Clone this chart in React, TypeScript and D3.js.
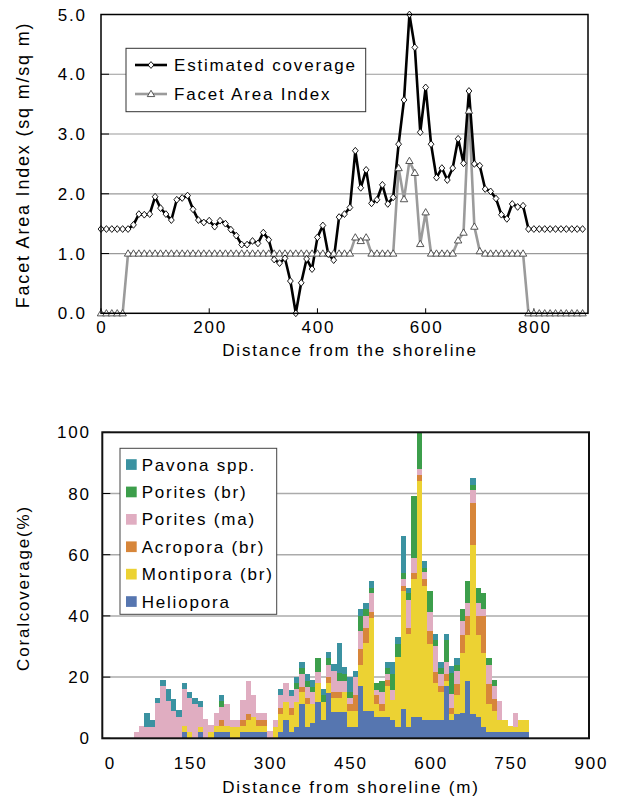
import React from 'react';
import * as d3 from 'd3';

// ---------- Top chart data ----------
const topDist = [
  0, 10, 20, 30, 40, 50, 60, 70, 80, 90,
  100, 110, 120, 130, 140, 150, 160, 170, 180, 190,
  200, 210, 220, 230, 240, 250, 260, 270, 280, 290,
  300, 310, 320, 330, 340, 350, 360, 370, 380, 390,
  400, 410, 420, 430, 440, 450, 460, 470, 480, 490,
  500, 510, 520, 530, 540, 550, 560, 570, 580, 590,
  600, 610, 620, 630, 640, 650, 660, 670, 680, 690,
  700, 710, 720, 730, 740, 750, 760, 770, 780, 790,
  800, 810, 820, 830, 840, 850, 860, 870, 880, 890,
];
const estimatedCoverage = [
  1.41, 1.41, 1.41, 1.41, 1.41, 1.41, 1.48, 1.66, 1.65, 1.66,
  1.95, 1.76, 1.66, 1.56, 1.90, 1.93, 1.97, 1.74, 1.56, 1.52,
  1.55, 1.45, 1.55, 1.50, 1.40, 1.30, 1.15, 1.15, 1.21, 1.17,
  1.35, 1.23, 0.90, 0.84, 0.92, 0.54, 0.00, 0.51, 0.91, 0.74,
  1.27, 1.47, 0.99, 0.89, 1.61, 1.66, 1.77, 2.72, 2.10, 2.40,
  1.84, 1.90, 2.15, 1.83, 1.94, 2.83, 3.57, 5.00, 4.45, 3.03,
  3.78, 2.83, 2.27, 2.43, 2.23, 2.43, 2.92, 2.51, 3.72, 2.50,
  2.47, 2.08, 2.04, 1.92, 1.65, 1.58, 1.83, 1.78, 1.80, 1.41,
  1.41, 1.41, 1.41, 1.41, 1.41, 1.41, 1.41, 1.41, 1.41, 1.41,
];
const facetAreaIndex = [
  0, 0, 0, 0, 0, 1, 1, 1, 1, 1,
  1, 1, 1, 1, 1, 1, 1, 1, 1, 1,
  1, 1, 1, 1, 1, 1, 1, 1, 1, 1,
  1, 1, 1, 1, 1, 1, 1, 1, 1, 1,
  1, 1, 1, 1, 1, 1, 1, 1.27, 1.21, 1.27,
  1, 1, 1, 1, 1, 2.43, 1.91, 2.55, 2.35, 1.16,
  1.69, 1, 1, 1, 1, 1, 1.22, 1.35, 3.39, 1.45,
  1.04, 1, 1, 1, 1, 1, 1, 1, 1, 0,
  0, 0, 0, 0, 0, 0, 0, 0, 0, 0,
];
const topYTicks = [0, 1, 2, 3, 4, 5];
const topXTicks = [0, 200, 400, 600, 800];

// ---------- Bottom chart data ----------
const barDist = [
  50, 60, 70, 80, 90, 100, 110, 120, 130, 140,
  150, 160, 170, 180, 190, 200, 210, 220, 230, 240,
  250, 260, 270, 280, 290, 300, 310, 320, 330, 340,
  350, 360, 370, 380, 390, 400, 410, 420, 430, 440,
  450, 460, 470, 480, 490, 500, 510, 520, 530, 540,
  550, 560, 570, 580, 590, 600, 610, 620, 630, 640,
  650, 660, 670, 680, 690, 700, 710, 720, 730, 740,
  750, 760, 770, 780,
];
const heliopora = [
  0, 0, 0, 0, 0, 0, 0, 0, 0, 2.0,
  0, 0, 2.2, 0, 0, 2.0, 2.0, 2.0, 0, 0,
  2.0, 2.0, 2.0, 2.0, 2.0, 0, 0, 2.0, 6.0, 2.0,
  3.8, 11.2, 3.8, 4.9, 12.0, 6.0, 14.7, 8.7, 8.7, 8.7,
  3.8, 3.8, 17.1, 9.0, 9.0, 7.1, 7.1, 7.1, 6.0, 3.8,
  9.6, 3.8, 7.0, 7.1, 6.0, 6.0, 6.0, 6.0, 17.1, 6.0,
  7.9, 8.2, 18.7, 7.9, 7.1, 3.8, 2.2, 2.2, 2.2, 2.2,
  2.2, 2.2, 2.2, 2.2,
];
const montipora = [
  0, 0, 0, 0, 0, 0, 0, 0, 0, 1.9,
  2.0, 0, 1.6, 0, 2.0, 1.9, 1.9, 1.9, 3.8, 3.8,
  1.9, 4.0, 5.1, 1.9, 1.9, 0, 3.8, 6.0, 6.0, 5.5,
  8.2, 4.0, 7.4, 6.3, 6.0, 6.0, 3.3, 4.4, 4.4, 6.5,
  5.2, 5.2, 6.8, 22.0, 30.2, 4.1, 1.9, 10.0, 6.5, 22.7,
  38.4, 30.3, 45.1, 77.0, 43.8, 24.8, 12.0, 9.2, 1.7, 1.9,
  6.3, 19.8, 15.1, 55.3, 26.7, 24.2, 9.0, 6.7, 3.8, 3.8,
  1.8, 1.6, 3.8, 3.8,
];
const acropora = [
  0, 0, 0, 0, 0, 0, 0, 0, 0, 0,
  0, 0, 0, 0, 0, 0, 2.2, 0, 0, 0,
  2.2, 2.0, 0, 2.2, 2.2, 0, 0, 1.9, 0, 2.4,
  0, 1.7, 1.9, 0, 0, 0, 2.1, 2.1, 2.1, 0,
  2.2, 5.2, 5.2, 4.9, 2.0, 3.0, 2.2, 1.9, 0, 0,
  1.8, 1.8, 1.8, 2.0, 2.2, 4.4, 3.8, 1.9, 2.2, 2.1,
  3.7, 5.8, 6.2, 13.6, 6.2, 12.0, 6.7, 3.8, 0, 0,
  0, 0, 0, 0,
];
const poritesMa = [
  2.2, 4.0, 3.8, 3.8, 11.4, 17.1, 12.3, 9.0, 7.1, 12.2,
  11.1, 11.2, 6.3, 6.3, 2.2, 4.4, 4.0, 7.4, 2.2, 2.2,
  6.5, 10.6, 7.1, 2.2, 2.2, 2.4, 2.2, 4.4, 6.0, 4.0,
  4.0, 4.1, 3.8, 4.0, 3.8, 0, 3.8, 6.8, 3.6, 3.6,
  1.9, 5.7, 6.1, 4.1, 6.2, 1.6, 4.0, 2.0, 3.3, 0,
  2.3, 9.3, 4.9, 1.9, 2.2, 6.2, 8.4, 3.9, 4.0, 4.4,
  4.2, 4.5, 4.3, 4.3, 4.3, 2.2, 6.1, 4.4, 6.2, 0,
  0, 4.4, 0, 0,
];
const poritesBr = [
  0, 0, 0, 0, 0, 0, 0, 0, 0, 0,
  0, 0, 0, 0, 0, 0, 2.0, 0, 0, 0,
  0, 0, 0, 0, 0, 0, 0, 0, 0, 0,
  2.2, 1.9, 1.9, 1.7, 4.3, 2.2, 2.2, 0, 2.4, 2.2,
  2.1, 0, 4.8, 2.1, 1.8, 2.4, 3.6, 1.9, 5.2, 4.3,
  1.8, 2.2, 20.4, 12.0, 1.6, 6.7, 1.9, 1.9, 7.1, 6.8,
  1.9, 3.8, 7.1, 1.7, 4.7, 5.2, 2.1, 2.0, 0, 0,
  0, 0, 0, 0,
];
const pavona = [
  0, 0, 4.4, 2.2, 1.9, 2.0, 3.7, 3.7, 2.0, 2.0,
  2.0, 1.9, 2.1, 0, 0, 0, 2.2, 0, 0, 0,
  0, 0, 0, 0, 0, 0, 0, 1.9, 0, 2.0,
  1.9, 1.9, 2.1, 2.1, 0, 1.9, 2.0, 2.3, 10.1, 2.2,
  4.9, 2.1, 2.1, 2.0, 2.2, 0, 0, 1.9, 3.8, 2.2,
  12.2, 1.6, 0, 0, 2.1, 0, 2.0, 1.9, 2.0, 2.4,
  2.1, 0, 0, 2.2, 0, 0, 0, 0, 0, 0,
  0, 0, 0, 0,
];
const seriesKeys = ['Heliopora', 'Montipora (br)', 'Acropora (br)', 'Porites (ma)', 'Porites (br)', 'Pavona spp.'];
const seriesValues = [heliopora, montipora, acropora, poritesMa, poritesBr, pavona];
const seriesColors = ['#5676b0', '#ecd233', '#d7863a', '#e0adc1', '#3c9e4b', '#3b92a1'];
const legendOrder = ['Pavona spp.', 'Porites (br)', 'Porites (ma)', 'Acropora (br)', 'Montipora (br)', 'Heliopora'];
const bottomYTicks = [0, 20, 40, 60, 80, 100];
const bottomXTicks = [0, 150, 300, 450, 600, 750, 900];

const FONT = "'Liberation Sans', Arial, Helvetica, sans-serif";
const LS = 1.8;
const FS = 17;

function diamond(x: number, y: number, r = 3.4) {
  return `M${x},${y - r}L${x + r * 0.85},${y}L${x},${y + r}L${x - r * 0.85},${y}Z`;
}
function triangle(x: number, y: number, r = 3.7) {
  return `M${x},${y - r}L${x + r},${y + r * 0.7}L${x - r},${y + r * 0.7}Z`;
}

export default function App() {
  // ---- top chart scales ----
  const xT = d3.scaleLinear().domain([0, 900]).range([101, 588]);
  const yT = d3.scaleLinear().domain([0, 5]).range([313.3, 14.5]);
  const covPath = d3.line<number>().x((_, i) => xT(topDist[i])).y((v) => yT(v))(estimatedCoverage) || '';
  const faiPath = d3.line<number>().x((_, i) => xT(topDist[i])).y((v) => yT(v))(facetAreaIndex) || '';

  // ---- bottom chart scales ----
  const xB = d3.scaleLinear().domain([0, 900]).range([109.5, 590.5]);
  const yB = d3.scaleLinear().domain([0, 100]).range([738.3, 432.3]);
  const rows = barDist.map((d, i) => {
    const r: Record<string, number> = { d };
    seriesKeys.forEach((k, j) => (r[k] = seriesValues[j][i]));
    return r;
  });
  const stacked = d3.stack<Record<string, number>>().keys(seriesKeys)(rows);

  const textStyle: React.CSSProperties = { letterSpacing: `${LS}px` };

  return (
    <svg
      width={619}
      height={799}
      style={{ position: 'absolute', left: 0, top: 0, background: '#fff' }}
      fontFamily={FONT}
      fontSize={FS}
    >
      <rect x={0} y={0} width={619} height={799} fill="#fff" />
      {/* ================= TOP CHART ================= */}
      {topYTicks.slice(1, 5).map((t) => (
        <line key={'tg' + t} x1={xT(0)} x2={xT(900)} y1={yT(t)} y2={yT(t)} stroke="#9a9a9a" strokeWidth={1.2} />
      ))}
      {topYTicks.map((t) => (
        <line key={'tyt' + t} x1={xT(0)} x2={xT(0) + 8} y1={yT(t)} y2={yT(t)} stroke="#000" strokeWidth={1} />
      ))}
      {topXTicks.map((t) => (
        <line key={'txt' + t} x1={xT(t)} x2={xT(t)} y1={yT(0)} y2={yT(0) - 5} stroke="#000" strokeWidth={1} />
      ))}
      <path d={faiPath} fill="none" stroke="#9b9b9b" strokeWidth={2.6} strokeLinejoin="round" />
      <path d={covPath} fill="none" stroke="#000" strokeWidth={2.6} strokeLinejoin="round" />
      {facetAreaIndex.map((v, i) => (
        <path key={'fm' + i} d={triangle(xT(topDist[i]), yT(v))} fill="#fff" stroke="#444" strokeWidth={0.9} />
      ))}
      {estimatedCoverage.map((v, i) => (
        <path key={'cm' + i} d={diamond(xT(topDist[i]), yT(v))} fill="#fff" stroke="#000" strokeWidth={0.9} />
      ))}
      <rect x={xT(0)} y={yT(5)} width={xT(900) - xT(0)} height={yT(0) - yT(5)} fill="none" stroke="#000" strokeWidth={1.5} />
      {/* legend */}
      <rect x={126} y={48.3} width={239.7} height={63.4} fill="#fff" stroke="#333" strokeWidth={1} />
      <line x1={135} x2={167} y1={65} y2={65} stroke="#000" strokeWidth={2.6} />
      <path d={diamond(151, 65)} fill="#fff" stroke="#000" strokeWidth={0.9} />
      <text x={174} y={71} style={textStyle}>Estimated coverage</text>
      <line x1={135} x2={167} y1={94} y2={94} stroke="#9b9b9b" strokeWidth={2.6} />
      <path d={triangle(151, 94)} fill="#fff" stroke="#444" strokeWidth={0.9} />
      <text x={174} y={100} style={textStyle}>Facet Area Index</text>
      {/* axes labels */}
      {topYTicks.map((t) => (
        <text key={'tyl' + t} x={85 + LS} y={yT(t) + 6} textAnchor="end" style={textStyle}>
          {t.toFixed(1)}
        </text>
      ))}
      {topXTicks.map((t) => (
        <text key={'txl' + t} x={xT(t) + LS / 2} y={333} textAnchor="middle" style={textStyle}>
          {t}
        </text>
      ))}
      <text x={350} y={356} textAnchor="middle" style={textStyle}>Distance from the shoreline</text>
      <text transform={`translate(29,165) rotate(-90)`} textAnchor="middle" fontSize={18} style={textStyle}>
        Facet Area Index (sq m/sq m)
      </text>

      {/* ================= BOTTOM CHART ================= */}
      {bottomYTicks.slice(1, 5).map((t) => (
        <line key={'bg' + t} x1={102.3} x2={589} y1={yB(t)} y2={yB(t)} stroke="#ababab" strokeWidth={1.5} />
      ))}
      <g shapeRendering="crispEdges">
        {stacked.map((s, j) =>
          s.map((seg, i) =>
            seg[1] - seg[0] > 0 ? (
              <rect
                key={`b${j}-${i}`}
                x={xB(barDist[i] - 5)}
                width={xB(barDist[i] + 5) - xB(barDist[i] - 5)}
                y={yB(seg[1])}
                height={yB(seg[0]) - yB(seg[1])}
                fill={seriesColors[j]}
              />
            ) : null
          )
        )}
      </g>
      {bottomYTicks.map((t) => (
        <line key={'byt' + t} x1={102.3} x2={110.3} y1={yB(t)} y2={yB(t)} stroke="#000" strokeWidth={1} />
      ))}
      <rect x={102.3} y={432.3} width={486.7} height={306} fill="none" stroke="#111" strokeWidth={2} />
      {/* legend */}
      <rect x={120} y={448.3} width={156.7} height={166} fill="#fff" stroke="#444" strokeWidth={1} />
      {legendOrder.map((name, k) => {
        const j = seriesKeys.indexOf(name);
        const cy = 464.5 + k * 27.4;
        return (
          <g key={'lg' + name}>
            <rect x={126} y={cy - 5.3} width={10.7} height={10.7} fill={seriesColors[j]} />
            <text x={141.7} y={cy + 6} style={textStyle}>{name}</text>
          </g>
        );
      })}
      {bottomYTicks.map((t) => (
        <text key={'byl' + t} x={89 + LS} y={yB(t) + 6} textAnchor="end" style={textStyle}>
          {t}
        </text>
      ))}
      {bottomXTicks.map((t) => (
        <text key={'bxl' + t} x={xB(t) + LS / 2} y={769} textAnchor="middle" style={textStyle}>
          {t}
        </text>
      ))}
      <text x={351} y={792.5} textAnchor="middle" style={textStyle}>Distance from shoreline (m)</text>
      <text transform={`translate(29,588) rotate(-90)`} textAnchor="middle" style={textStyle}>
        Coralcoverage(%)
      </text>
    </svg>
  );
}
